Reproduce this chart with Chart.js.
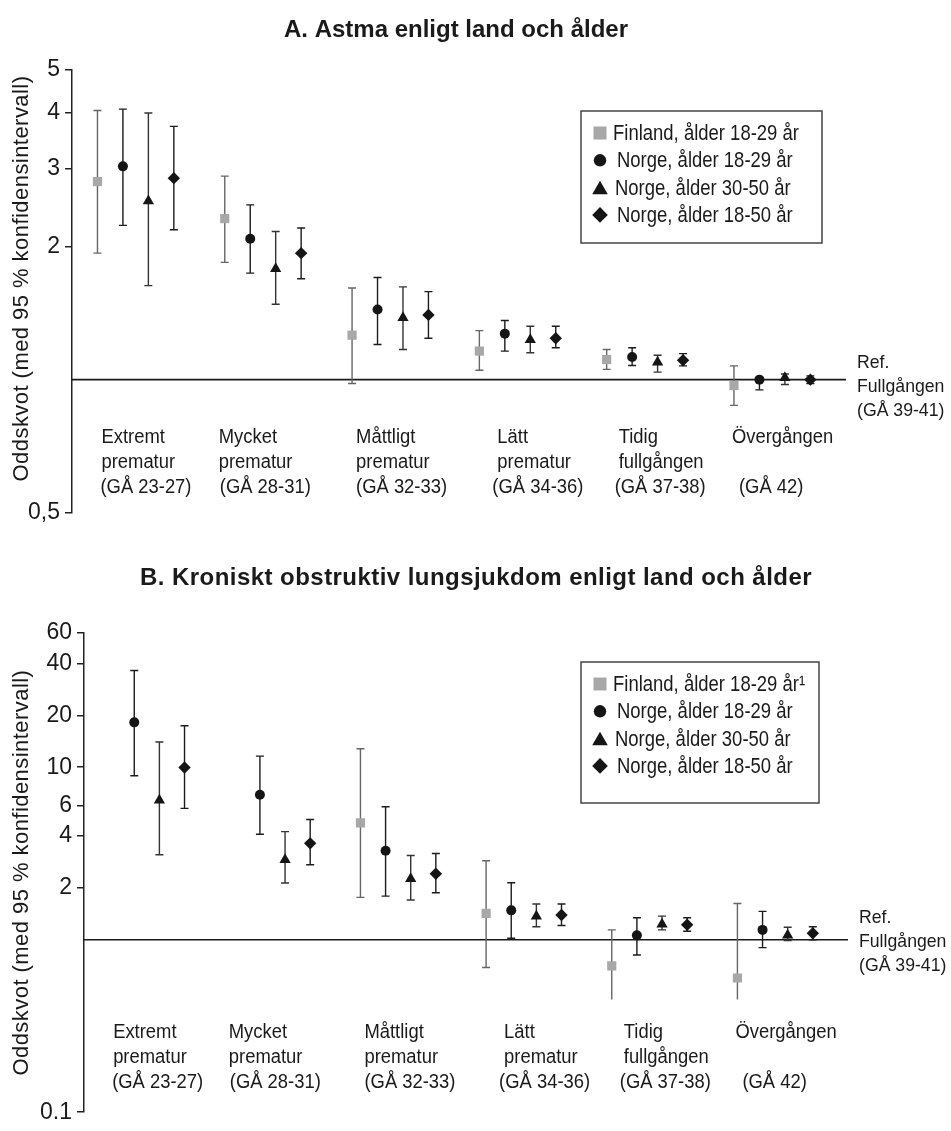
<!DOCTYPE html>
<html>
<head>
<meta charset="utf-8">
<script src="https://cdn.jsdelivr.net/npm/chart.js@4.4.1/dist/chart.umd.min.js"></script>
<style>
  body { margin: 0; background: #fff; }
  #wrap { position: relative; width: 951px; height: 1131px; }
  canvas { position: absolute; left: 0; }
</style>
</head>
<body>
<div id="wrap">
  <canvas id="chartAstma" width="951" height="550" style="top:0px"></canvas>
  <canvas id="chartKol" width="951" height="581" style="top:550px"></canvas>
</div>
<script>
// Grupper (gestationsålder) och serier
const GRUPPER = [
  ["Extremt", "prematur", "(GÅ 23-27)"],
  ["Mycket", "prematur", "(GÅ 28-31)"],
  ["Måttligt", "prematur", "(GÅ 32-33)"],
  ["Lätt", "prematur", "(GÅ 34-36)"],
  ["Tidig", "fullgången", "(GÅ 37-38)"],
  ["Övergången", "", "(GÅ 42)"]
]
const REF_TEXT = ["Ref.", "Fullgången", "(GÅ 39-41)"]

const SERIER_ASTMA = ["Finland, ålder 18-29 år", "Norge, ålder 18-29 år", "Norge, ålder 30-50 år", "Norge, ålder 18-50 år"]
const SERIER_KOL = ["Finland, ålder 18-29 år¹", "Norge, ålder 18-29 år", "Norge, ålder 30-50 år", "Norge, ålder 18-50 år"]

// A. Astma - oddskvot, nedre och övre gräns
const finAstma      = [2.80, 2.31, 1.26, 1.16, 1.11, 0.97]
const finAstmaLo    = [1.93, 1.84, 0.98, 1.05, 1.055, 0.875]
const finAstmaHi    = [4.05, 2.88, 1.61, 1.29, 1.17, 1.074]
const no1829Astma   = [3.03, 2.08, 1.44, 1.27, 1.125, 1.0]
const no1829AstmaLo = [2.23, 1.74, 1.20, 1.16, 1.076, 0.948]
const no1829AstmaHi = [4.08, 2.48, 1.70, 1.36, 1.18, 1.01]
const no3050Astma   = [2.53, 1.78, 1.38, 1.23, 1.094, 1.01]
const no3050AstmaLo = [1.63, 1.48, 1.17, 1.15, 1.04, 0.975]
const no3050AstmaHi = [4.00, 2.16, 1.62, 1.32, 1.135, 1.03]
const no1850Astma   = [2.85, 1.93, 1.40, 1.24, 1.106, 1.0]
const no1850AstmaLo = [2.18, 1.69, 1.24, 1.18, 1.074, 0.98]
const no1850AstmaHi = [3.73, 2.20, 1.58, 1.32, 1.145, 1.02]

// B. KOL
const finKol      = [null, null, 4.76, 1.42, 0.706, 0.60]
const finKolLo    = [null, null, 1.76, 0.69, 0.45, 0.45]
const finKolHi    = [null, null, 12.8, 2.87, 1.14, 1.62]
const finKolKapad = [false, false, false, false, true, true]   // nedre gräns avskuren i figuren
const no1829Kol   = [18.2, 6.93, 3.28, 1.48, 1.06, 1.14]
const no1829KolLo = [8.93, 4.09, 1.79, 1.02, 0.815, 0.90]
const no1829KolHi = [36.4, 11.6, 5.9, 2.14, 1.34, 1.46]
const no3050Kol   = [6.44, 2.91, 2.26, 1.37, 1.23, 1.06]
const no3050KolLo = [3.11, 2.13, 1.70, 1.19, 1.14, 0.99]
const no3050KolHi = [14.0, 4.23, 3.08, 1.61, 1.37, 1.18]
const no1850Kol   = [9.96, 3.62, 2.41, 1.39, 1.22, 1.09]
const no1850KolLo = [5.77, 2.72, 1.87, 1.21, 1.12, 1.0]
const no1850KolHi = [17.4, 4.98, 3.16, 1.61, 1.34, 1.19]

// y-axlarnas tick-värden och etiketter
const TICKS_ASTMA = [0.5, 2, 3, 4, 5]
const TICKLABELS_ASTMA = ["0,5", "2", "3", "4", "5"]
const TICKS_KOL = [0.1, 2, 4, 6, 10, 20, 40, 60]
const TICKLABELS_KOL = ["0.1", "2", "4", "6", "10", "20", "40", "60"]

const STIL = [
  {pointStyle: 'rect', radius: 6.5, color: '#a8a8a8', linje: '#666666', legRadius: 9.2},
  {pointStyle: 'circle', radius: 5, color: '#151515', linje: '#1c1c1c', legRadius: 6.2},
  {pointStyle: 'triangle', radius: 6.5, color: '#151515', linje: '#333333', legRadius: 9},
  {pointStyle: 'rectRot', radius: 6.2, color: '#151515', linje: '#1c1c1c', legRadius: 7.8}
]
const SERIE_STEG = 0.2
const SANS = '"Liberation Sans", Arial, sans-serif'

// smal text: vanlig Liberation Sans, hoptryckt på bredden
function smalText(ctx, t, x, y, sx) {
  ctx.save()
  ctx.translate(x, y)
  ctx.scale(sx, 1)
  ctx.fillText(t, 0, 0)
  ctx.restore()
}

const felstaplar = {
  id: 'felstaplar',
  beforeDatasetsDraw(chart) {
    const ctx = chart.ctx
    const y = chart.scales.y
    const area = chart.chartArea
    ctx.save()
    // referenslinje vid oddskvot 1
    const y1 = y.getPixelForValue(1)
    ctx.strokeStyle = '#1a1a1a'
    ctx.lineWidth = 1.6
    ctx.beginPath()
    ctx.moveTo(area.left, y1)
    ctx.lineTo(area.right, y1)
    ctx.stroke()

    chart.data.datasets.forEach((ds, i) => {
      const meta = chart.getDatasetMeta(i)
      ctx.strokeStyle = ds.linjeFarg
      ctx.lineWidth = 1.4
      meta.data.forEach((pt, j) => {
        const d = ds.data[j]
        const yl = y.getPixelForValue(d.lo)
        const yh = y.getPixelForValue(d.hi)
        ctx.beginPath()
        ctx.moveTo(pt.x, yl); ctx.lineTo(pt.x, yh)
        if (!d.kapad) { ctx.moveTo(pt.x - 4, yl); ctx.lineTo(pt.x + 4, yl) }
        ctx.moveTo(pt.x - 4, yh); ctx.lineTo(pt.x + 4, yh)
        ctx.stroke()
      })
    })
    ctx.restore()
  }
}

const texter = {
  id: 'texter',
  afterDraw(chart, args, o) {
    const ctx = chart.ctx
    const area = chart.chartArea
    const x = chart.scales.x
    const y = chart.scales.y
    ctx.save()
    ctx.fillStyle = '#1a1a1a'

    // rubrik
    ctx.font = 'bold 24px ' + SANS
    ctx.letterSpacing = o.titelSpacing + 'px'
    ctx.textAlign = 'center'
    ctx.textBaseline = 'middle'
    ctx.fillText(o.titel, o.titelX, o.titelY)

    // y-axelns titel
    ctx.save()
    ctx.translate(22, (area.top + area.bottom) / 2 + o.yTitelDy)
    ctx.rotate(-Math.PI / 2)
    ctx.font = '22px ' + SANS
    ctx.letterSpacing = '0.45px'
    ctx.fillText("Oddskvot (med 95 % konfidensintervall)", 0, 0)
    ctx.restore()
    ctx.letterSpacing = '0px'

    // gruppetiketter
    ctx.font = '20px ' + SANS
    ctx.textAlign = 'left'
    const dx = [4, -6, 4, 18, 12, -2]
    const dx3 = [-1, 1, 0, -5, -4, 7]
    GRUPPER.forEach((rader, g) => {
      const px = x.getPixelForValue(g) + dx[g]
      rader.forEach((t, r) => {
        smalText(ctx, t, px + (r == 2 ? dx3[g] : 0), o.etikettY + r * 25, 0.92)
      })
    })

    // referenstext
    ctx.font = '19px ' + SANS
    const y1 = y.getPixelForValue(1)
    REF_TEXT.forEach((t, r) => {
      smalText(ctx, t, area.right + 11, y1 + o.refDy + r * 24, 0.93)
    })

    // teckenförklaring
    const L = o.legend
    ctx.strokeStyle = '#444'
    ctx.lineWidth = 1.5
    ctx.strokeRect(L.x, L.y, L.w, L.h)
    ctx.font = '22px ' + SANS
    chart.data.datasets.forEach((ds, i) => {
      const s = STIL[i]
      const ry = L.y + 22 + i * 27.3
      ctx.fillStyle = s.color
      const my = s.pointStyle == 'triangle' ? ry + s.legRadius / 4 : ry
      Chart.helpers.drawPoint(ctx, {pointStyle: s.pointStyle, radius: s.legRadius, rotation: 0, borderWidth: 0}, L.x + 19, my)
      ctx.fillStyle = '#1a1a1a'
      smalText(ctx, ds.label, L.x + [32, 36, 34, 36][i], ry + 1, 0.84)
    })
    ctx.restore()
  }
}

function skapaDiagram(canvasId, serier, varden, lo, hi, kapad, ticks, tickLabels, yMin, yMax, layout, text) {
  const datasets = serier.map((namn, s) => {
    const punkter = []
    varden[s].forEach((v, g) => {
      if (v != null) punkter.push({x: g + s * SERIE_STEG, y: v, lo: lo[s][g], hi: hi[s][g], kapad: kapad[s] ? kapad[s][g] : false})
    })
    return {
      label: namn,
      data: punkter,
      pointStyle: STIL[s].pointStyle,
      pointRadius: STIL[s].radius,
      pointHoverRadius: STIL[s].radius,
      pointBackgroundColor: STIL[s].color,
      pointBorderWidth: 0,
      linjeFarg: STIL[s].linje,
      showLine: false
    }
  })

  return new Chart(document.getElementById(canvasId), {
    type: 'scatter',
    data: {datasets: datasets},
    options: {
      responsive: false,
      animation: false,
      layout: {padding: layout.padding},
      plugins: {
        legend: {display: false},
        tooltip: {enabled: false},
        texter: text
      },
      scales: {
        x: {type: 'linear', display: false, min: -0.2, max: 5.88},
        y: {
          type: 'logarithmic',
          min: yMin,
          max: yMax,
          afterBuildTicks: (scale) => { scale.ticks = ticks.map(v => ({value: v})) },
          afterFit: (scale) => { scale.width = layout.axelX },
          ticks: {
            callback: (v) => tickLabels[ticks.indexOf(v)],
            font: {family: SANS, size: 23},
            color: '#1a1a1a',
            padding: 5
          },
          grid: {display: true, drawOnChartArea: false, drawTicks: true, tickLength: 7, color: '#222', lineWidth: 1.5},
          border: {display: true, color: '#222', width: 1.5}
        }
      }
    },
    plugins: [felstaplar, texter]
  })
}

skapaDiagram('chartAstma', SERIER_ASTMA,
  [finAstma, no1829Astma, no3050Astma, no1850Astma],
  [finAstmaLo, no1829AstmaLo, no3050AstmaLo, no1850AstmaLo],
  [finAstmaHi, no1829AstmaHi, no3050AstmaHi, no1850AstmaHi],
  [null, null, null, null],
  TICKS_ASTMA, TICKLABELS_ASTMA, 0.5, 5,
  {padding: {left: 0, right: 105, top: 70, bottom: 37}, axelX: 72},
  {titel: "A. Astma enligt land och ålder", titelX: 456, titelY: 30, titelSpacing: 0, yTitelDy: -13,
   etikettY: 437, refDy: -17, legend: {x: 581, y: 111, w: 241, h: 132}})

skapaDiagram('chartKol', SERIER_KOL,
  [finKol, no1829Kol, no3050Kol, no1850Kol],
  [finKolLo, no1829KolLo, no3050KolLo, no1850KolLo],
  [finKolHi, no1829KolHi, no3050KolHi, no1850KolHi],
  [finKolKapad, null, null, null],
  TICKS_KOL, TICKLABELS_KOL, 0.1, 60,
  {padding: {left: 0, right: 103, top: 83, bottom: 10}, axelX: 84},
  {titel: "B. Kroniskt obstruktiv lungsjukdom enligt land och ålder", titelX: 476, titelY: 28, titelSpacing: 0.45, yTitelDy: 0,
   etikettY: 482, refDy: -22, legend: {x: 581, y: 112, w: 238, h: 141}})
</script>
</body>
</html>
